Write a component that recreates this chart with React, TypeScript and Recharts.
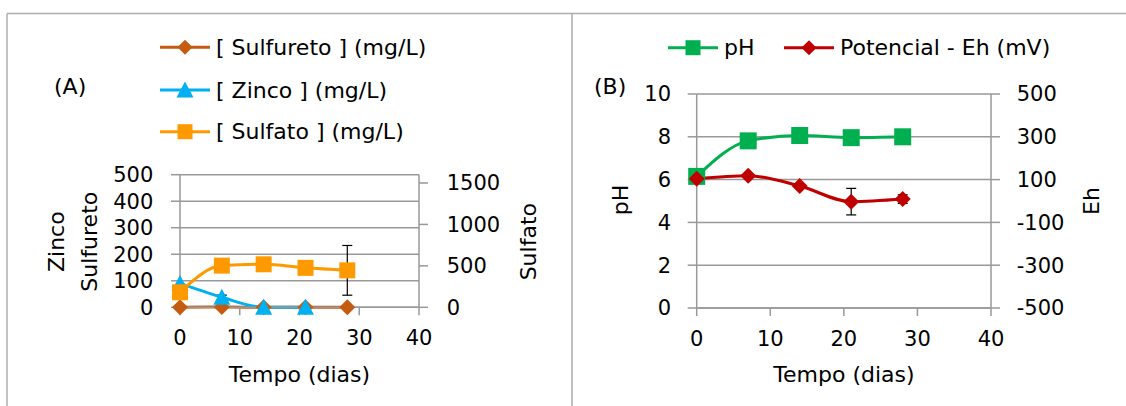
import React from "react";
import { LineChart, Line, XAxis, YAxis, CartesianGrid, ErrorBar } from "recharts";

// sampling days
const days = [0, 7, 14, 21, 28];

// panel A: concentrations (mg/L)
const sulfureto = [0, 1, 0, 0, 0];
const zinco = [90, 38, 0, 0];
const zincoErr = [0, 8, 0, 0];
const sulfato = [181, 503, 519, 476, 446];
const sulfatoErr = [0, 0, 0, 0, 300];

// panel B: pH and redox potential (mV)
const ph = [6.15, 7.81, 8.06, 7.96, 8.0];
const eh = [104, 118, 70, -3, 9];
const ehErr = [0, 0, 0, 62, 20];

const dayTicks = [0, 10, 20, 30, 40];
const concTicks = [0, 100, 200, 300, 400, 500];
const sulfatoTicks = [0, 500, 1000, 1500];
const phTicks = [0, 2, 4, 6, 8, 10];
const ehTicks = [-500, -300, -100, 100, 300, 500];

const FONT = "DejaVu Sans";
const GRID = "#999999";

const C_SULFURETO = "#c55a11";
const C_ZINCO = "#00b0f0";
const C_SULFATO = "#ff9900";
const C_PH = "#00b050";
const C_EH = "#c00000";

type Shape = "square" | "diamond" | "triangle";

const rowsA = days.map((d, i) => ({
  day: d,
  sulfureto: sulfureto[i],
  zinco: zinco[i],
  zincoErr: zincoErr[i] ? zincoErr[i] : undefined,
  sulfato: sulfato[i],
  sulfatoErr: sulfatoErr[i] ? sulfatoErr[i] : undefined,
}));

const rowsB = days.map((d, i) => ({
  day: d,
  ph: ph[i],
  eh: eh[i],
  ehErr: ehErr[i] ? ehErr[i] : undefined,
}));

function markerPath(shape: Shape, cx: number, cy: number, s: number) {
  const h = s / 2;
  if (shape === "square") return `M${cx - h},${cy - h}h${s}v${s}h${-s}Z`;
  if (shape === "diamond")
    return `M${cx},${cy - h}L${cx + h},${cy}L${cx},${cy + h}L${cx - h},${cy}Z`;
  return `M${cx},${cy - h - 1}L${cx + h + 1},${cy + h}L${cx - h - 1},${cy + h}Z`;
}

function Marker({ cx, cy, shape, color, size }: { cx?: number; cy?: number; shape: Shape; color: string; size: number }) {
  if (cx == null || cy == null || isNaN(cx) || isNaN(cy)) return <g />;
  return <path d={markerPath(shape, cx, cy, size)} fill={color} stroke="none" />;
}

const dotFor = (name: string, shape: Shape, color: string, size: number) => (p: any) =>
  <Marker key={`${name}-${p.index}`} cx={p.cx} cy={p.cy} shape={shape} color={color} size={size} />;

const tickStyle = { fill: "#000", fontSize: 21, fontFamily: FONT };

function LegendItem({ x, y, color, shape, label }: { x: number; y: number; color: string; shape: Shape; label: string }) {
  // x is the marker centre, y the row centre
  return (
    <g>
      <line x1={x - 25} x2={x + 25} y1={y} y2={y} stroke={color} strokeWidth={3} />
      <path d={markerPath(shape, x, y, shape === "square" ? 15 : 15)} fill={color} />
      <text x={x + 31} y={y + 7.7} fontSize={22} fontFamily={FONT} fill="#000">
        {label}
      </text>
    </g>
  );
}

function VLabel({ x, y, text }: { x: number; y: number; text: string }) {
  return (
    <text x={x} y={y} transform={`rotate(-90 ${x} ${y})`} textAnchor="middle" fontSize={22} fontFamily={FONT} fill="#000">
      {text}
    </text>
  );
}

export default function App() {
  return (
    <div style={{ position: "absolute", left: 0, top: 0, width: 1126, height: 406, background: "#fff", overflow: "hidden" }}>
      {/* panel A */}
      <div style={{ position: "absolute", left: 0, top: 0 }}>
        <LineChart width={570} height={406} data={rowsA} margin={{ top: 174.7, right: 91, bottom: 58.7, left: 120 }}>
          <CartesianGrid yAxisId="left" vertical={false} stroke={GRID} strokeWidth={1.5} />
          <XAxis
            dataKey="day"
            type="number"
            domain={[0, 40]}
            ticks={dayTicks}
            interval={0}
            height={40}
            stroke={GRID}
            strokeWidth={1.5}
            tickSize={8}
            tickMargin={14.7}
            tick={tickStyle}
          />
          <YAxis
            yAxisId="left"
            domain={[0, 500]}
            ticks={concTicks}
            interval={0}
            width={60}
            stroke={GRID}
            strokeWidth={1.5}
            tickSize={9}
            tickMargin={17.7}
            tick={tickStyle}
          />
          <YAxis
            yAxisId="right"
            orientation="right"
            domain={[0, 1600]}
            ticks={sulfatoTicks}
            interval={0}
            width={60}
            stroke={GRID}
            strokeWidth={1.5}
            tickSize={9}
            tickMargin={18.7}
            tick={tickStyle}
          />
          <Line
            yAxisId="left"
            type="monotone"
            dataKey="sulfureto"
            stroke={C_SULFURETO}
            strokeWidth={3}
            dot={dotFor("sulfureto", "diamond", C_SULFURETO, 16)}
            isAnimationActive={false}
          />
          <Line
            yAxisId="left"
            type="monotone"
            dataKey="zinco"
            stroke={C_ZINCO}
            strokeWidth={3}
            dot={dotFor("zinco", "triangle", C_ZINCO, 15)}
            isAnimationActive={false}
          >
            <ErrorBar dataKey="zincoErr" direction="y" width={5} stroke="#000" strokeWidth={1.2} />
          </Line>
          <Line
            yAxisId="right"
            type="monotone"
            dataKey="sulfato"
            stroke={C_SULFATO}
            strokeWidth={3}
            dot={dotFor("sulfato", "square", C_SULFATO, 16)}
            isAnimationActive={false}
          >
            <ErrorBar dataKey="sulfatoErr" direction="y" width={5} stroke="#000" strokeWidth={1.2} />
          </Line>
        </LineChart>
      </div>

      {/* panel B */}
      <div style={{ position: "absolute", left: 572, top: 0 }}>
        <LineChart width={554} height={406} data={rowsB} margin={{ top: 94, right: 75, bottom: 58, left: 64.7 }}>
          <CartesianGrid yAxisId="left" vertical={false} stroke={GRID} strokeWidth={1.5} />
          <XAxis
            dataKey="day"
            type="number"
            domain={[0, 40]}
            ticks={dayTicks}
            interval={0}
            height={40}
            stroke={GRID}
            strokeWidth={1.5}
            tickSize={8}
            tickMargin={14.7}
            tick={tickStyle}
          />
          <YAxis
            yAxisId="left"
            domain={[0, 10]}
            ticks={phTicks}
            interval={0}
            width={60}
            stroke={GRID}
            strokeWidth={1.5}
            tickSize={9}
            tickMargin={16.7}
            tick={tickStyle}
          />
          <YAxis
            yAxisId="right"
            orientation="right"
            domain={[-500, 500]}
            ticks={ehTicks}
            interval={0}
            width={60}
            stroke={GRID}
            strokeWidth={1.5}
            tickSize={9}
            tickMargin={16.7}
            tick={tickStyle}
          />
          <Line
            yAxisId="left"
            type="monotone"
            dataKey="ph"
            stroke={C_PH}
            strokeWidth={3}
            dot={dotFor("ph", "square", C_PH, 17)}
            isAnimationActive={false}
          />
          <Line
            yAxisId="right"
            type="monotone"
            dataKey="eh"
            stroke={C_EH}
            strokeWidth={3}
            dot={dotFor("eh", "diamond", C_EH, 16)}
            isAnimationActive={false}
          >
            <ErrorBar dataKey="ehErr" direction="y" width={5} stroke="#000" strokeWidth={1.2} />
          </Line>
        </LineChart>
      </div>

      {/* frames, legends and titles */}
      <svg width={1126} height={406} style={{ position: "absolute", left: 0, top: 0, pointerEvents: "none" }}>
        <g stroke="#adadad" strokeWidth={1.5} fill="none">
          <line x1={7} y1={13.5} x2={1126} y2={13.5} />
          <line x1={7} y1={13.5} x2={7} y2={406} />
          <line x1={572} y1={13.5} x2={572} y2={406} />
        </g>

        <LegendItem x={185} y={47.3} color={C_SULFURETO} shape="diamond" label="[ Sulfureto ] (mg/L)" />
        <LegendItem x={185} y={90} color={C_ZINCO} shape="triangle" label="[ Zinco ] (mg/L)" />
        <LegendItem x={185} y={131.7} color={C_SULFATO} shape="square" label="[ Sulfato ] (mg/L)" />

        <LegendItem x={693} y={47.7} color={C_PH} shape="square" label="pH" />
        <LegendItem x={809} y={47.7} color={C_EH} shape="diamond" label="Potencial - Eh (mV)" />

        <g fontSize={22} fontFamily={FONT} fill="#000">
          <text x={54} y={93.8}>(A)</text>
          <text x={594} y={93.8}>(B)</text>
          <text x={299.5} y={381.7} textAnchor="middle">Tempo (dias)</text>
          <text x={844} y={381.7} textAnchor="middle">Tempo (dias)</text>
        </g>

        <VLabel x={64} y={241.7} text="Zinco" />
        <VLabel x={97} y={241.7} text="Sulfureto" />
        <VLabel x={536} y={241.7} text="Sulfato" />
        <VLabel x={628} y={200} text="pH" />
        <VLabel x={1099} y={201} text="Eh" />
      </svg>
    </div>
  );
}
